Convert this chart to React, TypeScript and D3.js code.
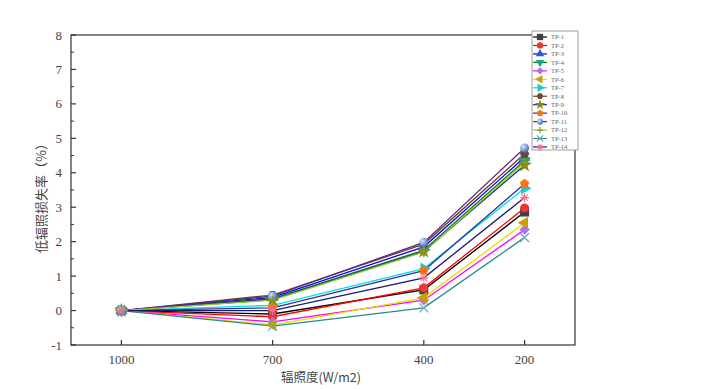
import React from "react";
import * as d3 from "d3";

const irradiance = [1000, 700, 400, 200];
const xTicks = [1000, 700, 400, 200];
const yTicks = [-1, 0, 1, 2, 3, 4, 5, 6, 7, 8];
const seriesNames = ["TP-1", "TP-2", "TP-3", "TP-4", "TP-5", "TP-6", "TP-7", "TP-8", "TP-9", "TP-10", "TP-11", "TP-12", "TP-13", "TP-14"];
const tp1 = [0, -0.1, 0.6, 2.86];
const tp2 = [0, -0.18, 0.66, 2.98];
const tp3 = [0, 0.38, 1.85, 4.45];
const tp4 = [0, 0.35, 1.75, 4.35];
const tp5 = [0, -0.33, 0.3, 2.35];
const tp6 = [0, -0.42, 0.37, 2.55];
const tp7 = [0, 0.15, 1.22, 3.55];
const tp8 = [0, 0.45, 1.93, 4.55];
const tp9 = [0, 0.32, 1.72, 4.22];
const tp10 = [0, 0.08, 1.16, 3.68];
const tp11 = [0, 0.42, 1.98, 4.72];
const tp12 = [0, 0.3, 1.7, 4.3];
const tp13 = [0, -0.45, 0.08, 2.12];
const tp14 = [0, 0.0, 0.95, 3.28];
const seriesValues = [tp1, tp2, tp3, tp4, tp5, tp6, tp7, tp8, tp9, tp10, tp11, tp12, tp13, tp14];

const lineColors = ["#000000", "#ff0000", "#0000ff", "#008000", "#ff00ff", "#e8e000", "#00e0e0", "#7a3a1a", "#2a2a9a", "#3030a0", "#5a2a8a", "#9ac83a", "#2a8a8a", "#1a1a6a"];
const markerColors = ["#404040", "#f03535", "#1e5fe0", "#1fa58a", "#b070f0", "#c8a000", "#20c8c8", "#6b4a3a", "#8a8a10", "#ff7010", "#6a8aca", "#8a9a20", "#6aaaaa", "#ff6a8a"];
const markerShapes = ["square", "circle", "triUp", "triDown", "diamond", "triLeft", "triRight", "hexagon", "star", "pentagon", "sphere", "plus", "times", "asterisk"];

function polygon(n: number, r: number, rot: number) {
  const pts: string[] = [];
  for (let i = 0; i < n; i++) {
    const a = rot + (i * 2 * Math.PI) / n;
    pts.push(`${(r * Math.cos(a)).toFixed(2)},${(r * Math.sin(a)).toFixed(2)}`);
  }
  return "M" + pts.join("L") + "Z";
}

function Marker({ shape, color, x, y, s = 1 }: { shape: string; color: string; x: number; y: number; s?: number }) {
  const r = 4.5 * s;
  const t = `translate(${x},${y})`;
  const tri = d3.symbol().type(d3.symbolTriangle).size(62 * s * s)() as string;
  switch (shape) {
    case "square":
      return <rect x={x - r} y={y - r} width={2 * r} height={2 * r} fill={color} />;
    case "circle":
    case "sphere":
      return <circle cx={x} cy={y} r={r} fill={color} />;
    case "triUp":
      return <path transform={t} d={tri} fill={color} />;
    case "triDown":
      return <path transform={`${t} rotate(180)`} d={tri} fill={color} />;
    case "triLeft":
      return <path transform={`${t} rotate(-90)`} d={tri} fill={color} />;
    case "triRight":
      return <path transform={`${t} rotate(90)`} d={tri} fill={color} />;
    case "diamond":
      return <path transform={t} d={polygon(4, r * 1.15, -Math.PI / 2)} fill={color} />;
    case "hexagon":
      return <path transform={t} d={polygon(6, r * 1.05, 0)} fill={color} />;
    case "pentagon":
      return <path transform={t} d={polygon(5, r * 1.1, -Math.PI / 2)} fill={color} />;
    case "star":
      return <path transform={t} d={d3.symbol().type(d3.symbolStar).size(68 * s * s)() as string} fill={color} />;
    case "plus":
      return <path transform={t} d={`M${-r},0H${r}M0,${-r}V${r}`} stroke={color} strokeWidth={1.2} fill="none" />;
    case "times":
      return <path transform={t} d={`M${-r},${-r}L${r},${r}M${-r},${r}L${r},${-r}`} stroke={color} strokeWidth={1.2} fill="none" />;
    case "asterisk":
      return (
        <path
          transform={t}
          d={`M${-r},0H${r}M0,${-r}V${r}M${-r * 0.7},${-r * 0.7}L${r * 0.7},${r * 0.7}M${-r * 0.7},${r * 0.7}L${r * 0.7},${-r * 0.7}`}
          stroke={color}
          strokeWidth={1.1}
          fill="none"
        />
      );
    default:
      return null;
  }
}

export default function App() {
  const W = 701, H = 389;
  const left = 71, right = 575, top = 35, bottom = 345;
  const x = d3.scaleLinear().domain([1100, 100]).range([left, right]);
  const y = d3.scaleLinear().domain([-1, 8]).range([bottom, top]);
  const line = d3
    .line<number>()
    .x((_, i) => x(irradiance[i]))
    .y((d) => y(d));
  const minor = d3.range(-0.5, 8, 1);
  const numFont = "'Liberation Serif', 'DejaVu Serif', serif";
  const cjkFont = "'Noto Sans CJK SC', sans-serif";

  const legX = 532, legY = 34, legStep = 8.46;

  return (
    <svg width={W} height={H} style={{ position: "absolute", left: 0, top: 0, background: "#fff" }}>
      <defs>
        <radialGradient id="sph" cx="35%" cy="35%" r="65%">
          <stop offset="0%" stopColor="#d8e4ff" />
          <stop offset="100%" stopColor="#4a70c0" />
        </radialGradient>
      </defs>
      <rect x={left} y={top} width={right - left} height={bottom - top} fill="none" stroke="#333" strokeWidth={1.2} />
      {yTicks.map((t) => (
        <g key={"y" + t}>
          <line x1={left} x2={left + 5} y1={y(t)} y2={y(t)} stroke="#333" strokeWidth={1.2} />
          <text x={left - 9} y={y(t) + 4.5} textAnchor="end" fontFamily={numFont} fontSize={13} fill="#444">
            {t}
          </text>
        </g>
      ))}
      {minor.map((t) => (
        <line key={"m" + t} x1={left} x2={left + 3} y1={y(t)} y2={y(t)} stroke="#333" strokeWidth={1} />
      ))}
      {xTicks.map((t) => (
        <g key={"x" + t}>
          <line x1={x(t)} x2={x(t)} y1={bottom} y2={bottom - 5} stroke="#333" strokeWidth={1.2} />
          <text x={x(t)} y={bottom + 19} textAnchor="middle" fontFamily={numFont} fontSize={13} fill="#444">
            {t}
          </text>
        </g>
      ))}
      <text x={321} y={382} textAnchor="middle" fontFamily={cjkFont} fontSize={12.5} fill="#444">
        辐照度(W/m2)
      </text>
      <text
        transform={`translate(46,${(top + bottom) / 2 + 5}) rotate(-90)`}
        textAnchor="middle"
        fontFamily={cjkFont}
        fontSize={13}
        fill="#444"
      >
        低辐照损失率（%）
      </text>
      {seriesValues.map((vals, i) => (
        <path key={"l" + i} d={line(vals) as string} fill="none" stroke={lineColors[i]} strokeWidth={1.3} />
      ))}
      {seriesValues.map((vals, i) =>
        vals.map((v, j) => (
          <Marker
            key={`p${i}-${j}`}
            shape={markerShapes[i]}
            color={markerShapes[i] === "sphere" ? "url(#sph)" : markerColors[i]}
            x={x(irradiance[j])}
            y={y(v)}
          />
        ))
      )}
      <rect x={legX} y={31} width={46} height={119} fill="#fff" stroke="#888" strokeWidth={0.8} />
      {seriesNames.map((name, i) => {
        const ly = legY + 3 + i * legStep;
        return (
          <g key={"lg" + i}>
            <line x1={legX + 1} x2={legX + 15} y1={ly} y2={ly} stroke={lineColors[i]} strokeWidth={1.2} />
            <Marker
              shape={markerShapes[i]}
              color={markerShapes[i] === "sphere" ? "url(#sph)" : markerColors[i]}
              x={legX + 8}
              y={ly}
              s={0.7}
            />
            <text x={legX + 19} y={ly + 2.3} fontFamily={numFont} fontSize={6.5} fill="#666">
              {name}
            </text>
          </g>
        );
      })}
    </svg>
  );
}
